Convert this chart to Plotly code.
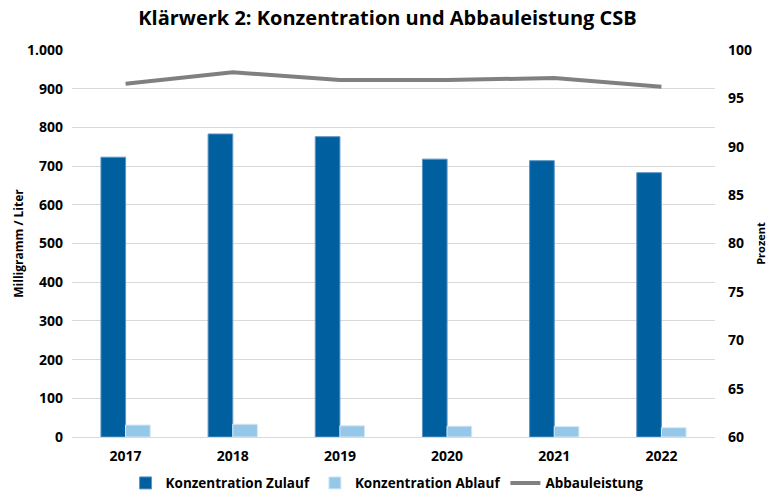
import plotly.graph_objects as go

years = ["2017", "2018", "2019", "2020", "2021", "2022"]
zulauf = [723, 783, 776, 718, 714, 683]
ablauf = [31, 33, 29, 28, 27, 24]
abbauleistung = [96.5, 97.7, 96.9, 96.9, 97.1, 96.2]

FONT = "Open Sans"
BOLD14 = dict(family=FONT, size=14, color="#000000", weight="bold")

fig = go.Figure()
fig.add_trace(go.Bar(x=years, y=zulauf, name="Konzentration Zulauf",
                     marker=dict(color="#005f9e", line=dict(color="#5b94c4", width=1))))
fig.add_trace(go.Bar(x=years, y=ablauf, name="Konzentration Ablauf",
                     marker=dict(color="#95c8e8", line=dict(color="#d4e9f6", width=1))))
fig.add_trace(go.Scatter(x=years, y=abbauleistung, name="Abbauleistung", yaxis="y2",
                         mode="lines", line=dict(color="#808080", width=4)))

fig.update_layout(
    width=775, height=493,
    paper_bgcolor="white", plot_bgcolor="white",
    separators=",.",
    font=dict(family=FONT, size=12, color="#000000"),
    title=dict(text="<b>Klärwerk 2: Konzentration und Abbauleistung CSB</b>",
               x=0.5, xanchor="center", y=0.963, yanchor="middle",
               font=dict(family=FONT, size=20, color="#000000")),
    margin=dict(l=72, r=60, t=50, b=56, autoexpand=False),
    barmode="group", bargap=0.54, bargroupgap=0,
    xaxis=dict(showgrid=False, showline=True, linecolor="#d9d9d9", linewidth=1,
               ticks="", automargin=False, ticklabelstandoff=6, tickfont=BOLD14),
    yaxis=dict(range=[0, 1000], dtick=100, tickformat=",d",
               showgrid=True, gridcolor="#d9d9d9", gridwidth=1,
               zeroline=False, showline=False, ticks="", automargin=False,
               ticklabelstandoff=8, tickfont=BOLD14,
               title=dict(text="<b>Milligramm / Liter</b>", font=dict(family=FONT, size=12),
                          standoff=0)),
    yaxis2=dict(range=[60, 100], dtick=5, overlaying="y", side="right",
                showgrid=False, zeroline=False, showline=False, ticks="", automargin=False,
                ticklabelstandoff=12, tickfont=BOLD14,
                title=dict(text="<b>Prozent</b>", font=dict(family=FONT, size=11),
                           standoff=6)),
    legend=dict(orientation="h", x=0.49, xanchor="center",
                yref="container", y=0.02, yanchor="middle",
                font=dict(family=FONT, size=13.5, color="#000000", weight="bold"),
                itemwidth=30, traceorder="normal"),
)

fig.write_html("out.html", config={"displayModeBar": False},
               post_script="document.body.style.margin='0';document.body.style.overflow='hidden';")
